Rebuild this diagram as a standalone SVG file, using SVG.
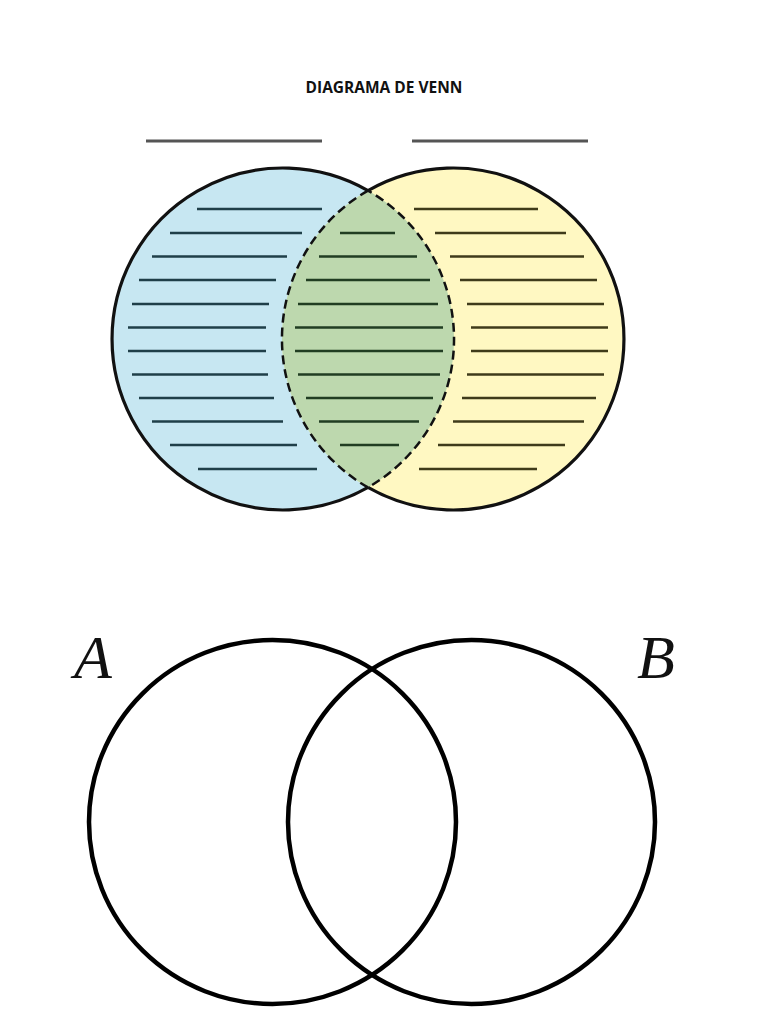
<svg xmlns="http://www.w3.org/2000/svg" width="768" height="1024" viewBox="0 0 768 1024">
<style>
.title{font-family:"Open Sans","Liberation Sans",sans-serif;font-weight:700;font-size:15.5px;fill:#111}
.hdr{stroke:#555;stroke-width:3;stroke-linecap:butt}
.outline{fill:none;stroke:#111;stroke-width:3.2}
.dash{fill:none;stroke:#111;stroke-width:2.5;stroke-dasharray:9 5}
.lb line{stroke:#1f3f49;stroke-width:2.5}
.lm line{stroke:#213d22;stroke-width:2.5}
.lr line{stroke:#3f3b1a;stroke-width:2.5}
.ring{fill:none;stroke:#000;stroke-width:4.5}
.lbl{font-family:"Liberation Serif","Times New Roman",serif;font-style:italic;font-size:62px;fill:#111}
</style>
<rect width="768" height="1024" fill="#fff"/>
<text class="title" x="384" y="93" text-anchor="middle">DIAGRAMA DE VENN</text>
<g id="header-lines">
<line class="hdr" x1="146" y1="141" x2="322" y2="141"/>
<line class="hdr" x1="412" y1="141" x2="588" y2="141"/>
</g>
<g id="venn-top">
<g id="set-left">
<circle cx="283" cy="339" r="171" fill="#c7e7f2"/>
</g>
<g id="set-right">
<circle cx="453" cy="339" r="171" fill="#fff8c2"/>
</g>
<g id="intersection">
<path d="M368,190.6 A171,171 0 0 0 368,487.4 A171,171 0 0 0 368,190.6 Z" fill="#bdd8ae"/>
</g>
<path class="outline" d="M368,190.6 A171,171 0 1 0 368,487.4"/>
<path class="outline" d="M368,190.6 A171,171 0 1 1 368,487.4"/>
<path class="dash" d="M368,190.6 A171,171 0 0 0 368,487.4 A171,171 0 0 0 368,190.6 Z"/>
<g class="lb">
<line x1="197" y1="209" x2="322" y2="209"/>
<line x1="170" y1="233" x2="302" y2="233"/>
<line x1="152" y1="256.5" x2="287" y2="256.5"/>
<line x1="139" y1="280" x2="276" y2="280"/>
<line x1="132" y1="304" x2="269" y2="304"/>
<line x1="128" y1="327.5" x2="266" y2="327.5"/>
<line x1="128" y1="351" x2="266" y2="351"/>
<line x1="132" y1="374.5" x2="268" y2="374.5"/>
<line x1="139" y1="398" x2="274" y2="398"/>
<line x1="152" y1="421.5" x2="283" y2="421.5"/>
<line x1="170" y1="445" x2="297" y2="445"/>
<line x1="198" y1="469" x2="317" y2="469"/>
</g>
<g class="lm">
<line x1="340" y1="233" x2="395" y2="233"/>
<line x1="319" y1="256.5" x2="417" y2="256.5"/>
<line x1="306" y1="280" x2="430" y2="280"/>
<line x1="298" y1="304" x2="438" y2="304"/>
<line x1="295" y1="327.5" x2="443" y2="327.5"/>
<line x1="295" y1="351" x2="443" y2="351"/>
<line x1="298" y1="374.5" x2="440" y2="374.5"/>
<line x1="306" y1="398" x2="433" y2="398"/>
<line x1="319" y1="421.5" x2="419" y2="421.5"/>
<line x1="340" y1="445" x2="399" y2="445"/>
</g>
<g class="lr">
<line x1="414" y1="209" x2="538" y2="209"/>
<line x1="435" y1="233" x2="566" y2="233"/>
<line x1="450" y1="256.5" x2="584" y2="256.5"/>
<line x1="460" y1="280" x2="597" y2="280"/>
<line x1="467" y1="304" x2="604" y2="304"/>
<line x1="471" y1="327.5" x2="608" y2="327.5"/>
<line x1="471" y1="351" x2="608" y2="351"/>
<line x1="467" y1="374.5" x2="604" y2="374.5"/>
<line x1="462" y1="398" x2="596" y2="398"/>
<line x1="453" y1="421.5" x2="584" y2="421.5"/>
<line x1="438" y1="445" x2="565" y2="445"/>
<line x1="419" y1="469" x2="537" y2="469"/>
</g>
</g>
<g id="venn-bottom">
<g id="set-A">
<ellipse class="ring" cx="272.5" cy="822" rx="183.5" ry="182"/>
<text class="lbl" x="74" y="678">A</text>
</g>
<g id="set-B">
<ellipse class="ring" cx="471.5" cy="822" rx="183.5" ry="182"/>
<text class="lbl" x="637" y="678">B</text>
</g>
</g>
</svg>
